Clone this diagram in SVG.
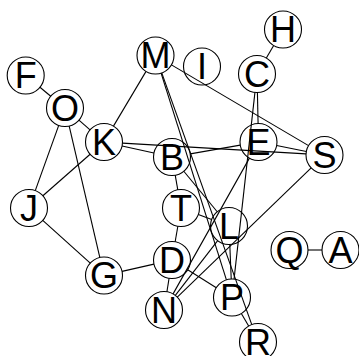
<svg xmlns="http://www.w3.org/2000/svg" width="359" height="356" viewBox="0 0 359 356">
<style>
.e line{stroke:#000;stroke-width:1.1;fill:none}
.n circle{fill:none;stroke:#000;stroke-width:1.1}
.n text{font-family:"Liberation Sans",Arial,sans-serif;font-size:36px;text-anchor:middle;fill:#000}
</style>
<rect width="359" height="356" fill="#fff"/>
<g id="connectors" class="e">
<line x1="39.96" y1="87.29" x2="50.74" y2="96.21"/>
<line x1="78.94" y1="120.16" x2="90.06" y2="129.84"/>
<line x1="58.73" y1="125.41" x2="35.27" y2="190.59"/>
<line x1="69.20" y1="126.02" x2="99.80" y2="257.48"/>
<line x1="42.89" y1="195.78" x2="90.11" y2="154.22"/>
<line x1="42.75" y1="220.38" x2="90.25" y2="263.12"/>
<line x1="113.46" y1="126.10" x2="146.04" y2="71.40"/>
<line x1="122.07" y1="145.99" x2="153.93" y2="153.01"/>
<line x1="122.47" y1="143.09" x2="306.03" y2="153.91"/>
<line x1="171.44" y1="64.89" x2="308.56" y2="145.61"/>
<line x1="161.08" y1="73.14" x2="226.42" y2="279.86"/>
<line x1="161.73" y1="72.92" x2="251.77" y2="324.58"/>
<line x1="266.33" y1="58.03" x2="273.67" y2="45.47"/>
<line x1="257.41" y1="92.50" x2="258.09" y2="123.50"/>
<line x1="254.94" y1="92.39" x2="234.06" y2="279.11"/>
<line x1="190.23" y1="153.84" x2="240.27" y2="145.16"/>
<line x1="276.65" y1="145.58" x2="306.35" y2="151.42"/>
<line x1="249.43" y1="158.12" x2="173.07" y2="293.88"/>
<line x1="311.19" y1="167.85" x2="177.31" y2="297.15"/>
<line x1="175.21" y1="175.22" x2="177.79" y2="189.78"/>
<line x1="177.84" y1="226.23" x2="175.16" y2="241.77"/>
<line x1="198.32" y1="214.50" x2="211.68" y2="219.50"/>
<line x1="153.96" y1="264.11" x2="122.04" y2="271.39"/>
<line x1="169.08" y1="278.27" x2="166.92" y2="291.73"/>
<line x1="187.69" y1="269.81" x2="216.31" y2="287.69"/>
<line x1="229.78" y1="244.48" x2="231.22" y2="279.02"/>
<line x1="217.68" y1="240.63" x2="175.32" y2="295.37"/>
<line x1="241.33" y1="313.47" x2="248.67" y2="326.03"/>
<line x1="308" y1="250" x2="322" y2="250"/>
<line x1="183.78" y1="171.26" x2="217.22" y2="211.74"/>
</g>
<g id="node-F" class="n"><circle cx="25.7" cy="75.5" r="18.5"/><text x="25.7" y="88.4">F</text></g>
<g id="node-O" class="n"><circle cx="65" cy="108" r="18.5"/><text x="65" y="120.9">O</text></g>
<g id="node-K" class="n"><circle cx="104" cy="142" r="18.5"/><text x="104" y="154.9">K</text></g>
<g id="node-M" class="n"><circle cx="155.5" cy="55.5" r="18.5"/><text x="155.5" y="68.4">M</text></g>
<g id="node-B" class="n"><circle cx="172" cy="157" r="18.5"/><text x="172" y="169.9">B</text></g>
<g id="node-I" class="n"><circle cx="202" cy="66.5" r="18.5"/><text x="202" y="79.4">I</text></g>
<g id="node-H" class="n"><circle cx="283" cy="29.5" r="18.5"/><text x="283" y="42.4">H</text></g>
<g id="node-C" class="n"><circle cx="257" cy="74" r="18.5"/><text x="257" y="86.9">C</text></g>
<g id="node-E" class="n"><circle cx="258.5" cy="142" r="18.5"/><text x="258.5" y="154.9">E</text></g>
<g id="node-S" class="n"><circle cx="324.5" cy="155" r="18.5"/><text x="324.5" y="167.9">S</text></g>
<g id="node-J" class="n"><circle cx="29" cy="208" r="18.5"/><text x="29" y="220.9">J</text></g>
<g id="node-G" class="n"><circle cx="104" cy="275.5" r="18.5"/><text x="104" y="288.4">G</text></g>
<g id="node-T" class="n"><circle cx="181" cy="208" r="18.5"/><text x="181" y="220.9">T</text></g>
<g id="node-D" class="n"><circle cx="172" cy="260" r="18.5"/><text x="172" y="272.9">D</text></g>
<g id="node-N" class="n"><circle cx="164" cy="310" r="18.5"/><text x="164" y="322.9">N</text></g>
<g id="node-L" class="n"><circle cx="229" cy="226" r="18.5"/><text x="229" y="238.9">L</text></g>
<g id="node-Q" class="n"><circle cx="289.5" cy="250" r="18.5"/><text x="289.5" y="262.9">Q</text></g>
<g id="node-A" class="n"><circle cx="340.5" cy="250" r="18.5"/><text x="340.5" y="262.9">A</text></g>
<g id="node-P" class="n"><circle cx="232" cy="297.5" r="18.5"/><text x="232" y="310.4">P</text></g>
<g id="node-R" class="n"><circle cx="258" cy="342" r="18.5"/><text x="258" y="354.9">R</text></g>
</svg>
